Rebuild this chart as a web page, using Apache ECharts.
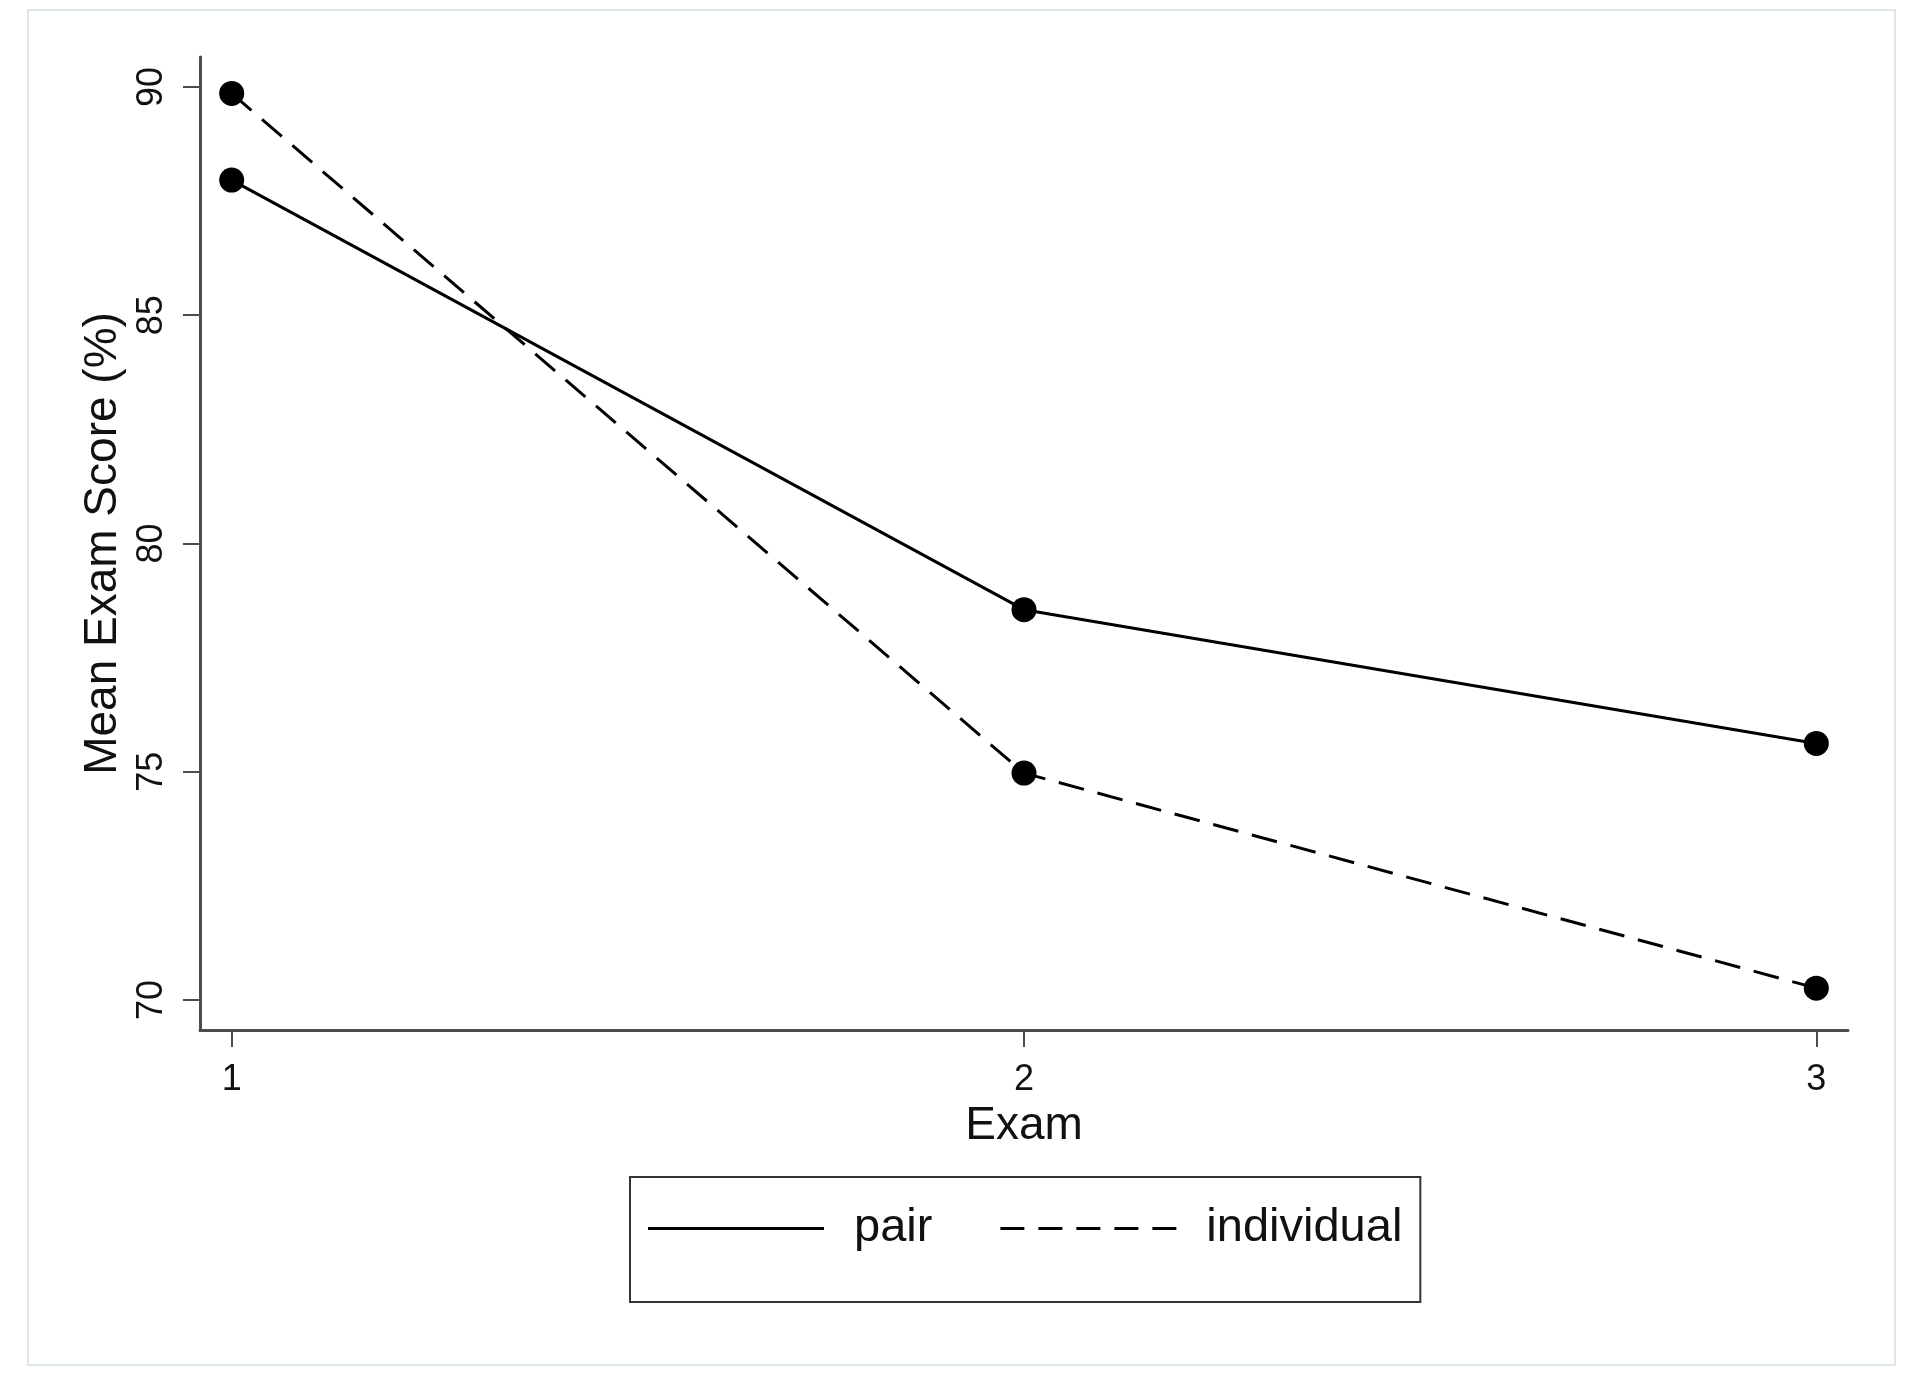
<!DOCTYPE html>
<html>
<head>
<meta charset="utf-8">
<script src="https://cdn.jsdelivr.net/npm/echarts@6/dist/echarts.min.js"></script>
<style>
  html, body { margin: 0; padding: 0; background: #fff; }
  #chart { width: 1920px; height: 1398px; }
</style>
</head>
<body>
<div id="chart"></div>
<script>
// exam number on the x axis
var exams = [1, 2, 3];
// mean exam score (%) per group
var pairScores = [87.96, 78.55, 75.62];
var individualScores = [89.86, 74.97, 70.26];
// tick labels
var xTicks = [1, 2, 3];
var yTicks = [70, 75, 80, 85, 90];

var axisColor = '#4d4d4d';
var font = 'Liberation Sans';

function pts(vals) {
  return exams.map(function (e, i) { return [e, vals[i]]; });
}

var chart = echarts.init(document.getElementById('chart'));
chart.setOption({
  backgroundColor: '#fff',
  animation: false,
  graphic: [{
    type: 'rect',
    shape: { x: 28, y: 10, width: 1867, height: 1355 },
    style: { fill: 'none', stroke: '#dde6e9', lineWidth: 2 }
  }],
  grid: { left: 200, right: 72, top: 57, bottom: 368 },
  xAxis: {
    type: 'value',
    min: 0.96,
    max: 3.04,
    name: 'Exam',
    nameLocation: 'middle',
    nameGap: 65,
    nameTextStyle: { fontFamily: font, fontSize: 46, color: '#111' },
    axisLine: { show: true, lineStyle: { color: axisColor, width: 3 } },
    axisTick: { show: true, length: 17, customValues: xTicks, lineStyle: { color: axisColor, width: 2 } },
    axisLabel: { customValues: xTicks, margin: 32, fontFamily: font, fontSize: 36, color: '#111' },
    splitLine: { show: false }
  },
  yAxis: {
    type: 'value',
    min: 69.343,
    max: 90.657,
    name: 'Mean Exam Score (%)',
    nameLocation: 'middle',
    nameRotate: 90,
    nameGap: 66,
    nameTextStyle: { fontFamily: font, fontSize: 46, color: '#111' },
    axisLine: { show: true, lineStyle: { color: axisColor, width: 3 } },
    axisTick: { show: true, length: 17, customValues: yTicks, lineStyle: { color: axisColor, width: 2 } },
    axisLabel: { customValues: yTicks, rotate: 90, margin: 30, fontFamily: font, fontSize: 36, color: '#111' },
    splitLine: { show: false }
  },
  legend: {
    left: 630,
    top: 1177,
    orient: 'horizontal',
    padding: [28, 18, 50, 18],
    borderColor: '#333',
    borderWidth: 2,
    itemGap: 68,
    itemWidth: 176,
    itemHeight: 3,
    textStyle: { fontFamily: font, fontSize: 47, color: '#111', padding: [0, 0, 0, 25] },
    data: [
      { name: 'pair', icon: 'path://M0,0h176v3h-176z' },
      { name: 'individual', icon: 'path://M0,0h24v3h-24zM38,0h24v3h-24zM76,0h24v3h-24zM114,0h24v3h-24zM152,0h24v3h-24z' }
    ]
  },
  series: [
    {
      name: 'pair',
      type: 'line',
      data: pts(pairScores),
      symbol: 'circle',
      symbolSize: 25,
      itemStyle: { color: '#000' },
      lineStyle: { color: '#000', width: 3, type: 'solid' }
    },
    {
      name: 'individual',
      type: 'line',
      data: pts(individualScores),
      symbol: 'circle',
      symbolSize: 25,
      itemStyle: { color: '#000' },
      lineStyle: { color: '#000', width: 3, type: [26, 14] }
    }
  ]
});
</script>
</body>
</html>
